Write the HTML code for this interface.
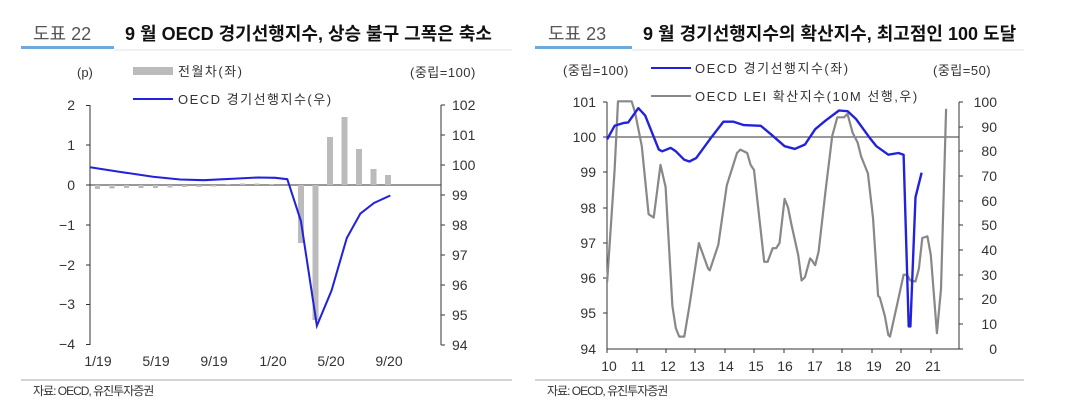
<!DOCTYPE html>
<html><head><meta charset="utf-8"><style>
body{margin:0;width:1066px;height:402px;background:#fff;overflow:hidden;font-family:"Liberation Sans","Noto Sans CJK KR",sans-serif;}
svg text{font-family:"Liberation Sans","Noto Sans CJK KR",sans-serif;}
</style></head><body>
<svg width="1066" height="402" viewBox="0 0 1066 402" xmlns="http://www.w3.org/2000/svg">
<text x="33" y="40" font-size="18" fill="#555">도표 22</text>
<text x="125" y="40" font-size="18" font-weight="bold" fill="#111">9 월 OECD 경기선행지수, 상승 불구 그폭은 축소</text>
<rect x="21" y="46" width="93" height="3" fill="#6fa8dc"/>
<line x1="114" y1="50" x2="512" y2="50" stroke="#dde4ee" stroke-width="1"/>
<text x="548" y="40" font-size="18" fill="#555">도표 23</text>
<text x="643" y="40" font-size="18" font-weight="bold" fill="#111">9 월 경기선행지수의 확산지수, 최고점인 100 도달</text>
<rect x="535" y="46" width="97" height="3" fill="#6fa8dc"/>
<line x1="632" y1="50" x2="1024" y2="50" stroke="#dde4ee" stroke-width="1"/>
<line x1="21" y1="380" x2="512" y2="380" stroke="#aaa"/>
<line x1="535" y1="380" x2="1024" y2="380" stroke="#aaa"/>
<text x="33" y="395" font-size="12" fill="#333" letter-spacing="-1">자료: OECD, 유진투자증권</text>
<text x="547" y="395" font-size="12" fill="#333" letter-spacing="-1">자료: OECD, 유진투자증권</text>

<!-- LEFT CHART -->
<g font-size="13" fill="#333">
<text x="77" y="77">(p)</text>
<rect x="133" y="67" width="40" height="8" fill="#bbb"/>
<text x="178" y="76" letter-spacing="1.5">전월차(좌)</text>
<line x1="133" y1="99" x2="173" y2="99" stroke="#2222dd" stroke-width="2"/>
<text x="178" y="104" letter-spacing="1.5">OECD 경기선행지수(우)</text>
<text x="410" y="77" letter-spacing="0.5">(중립=100)</text>
</g>
<g stroke="#333" stroke-width="1">
<line x1="90" y1="105" x2="90" y2="345"/>
<line x1="441" y1="105" x2="441" y2="345"/>
<line x1="90" y1="185" x2="441" y2="185"/>
</g>
<g stroke="#333">
<line x1="86" y1="105.5" x2="90" y2="105.5"/><line x1="86" y1="145" x2="90" y2="145"/><line x1="86" y1="185" x2="90" y2="185"/><line x1="86" y1="225" x2="90" y2="225"/><line x1="86" y1="265" x2="90" y2="265"/><line x1="86" y1="304.5" x2="90" y2="304.5"/><line x1="86" y1="344.5" x2="90" y2="344.5"/>
<line x1="441" y1="105" x2="445" y2="105"/><line x1="441" y1="135" x2="445" y2="135"/><line x1="441" y1="165" x2="445" y2="165"/><line x1="441" y1="195" x2="445" y2="195"/><line x1="441" y1="225" x2="445" y2="225"/><line x1="441" y1="255" x2="445" y2="255"/><line x1="441" y1="285" x2="445" y2="285"/><line x1="441" y1="315" x2="445" y2="315"/><line x1="441" y1="345" x2="445" y2="345"/>
</g>
<g font-size="14" fill="#333" text-anchor="end">
<text x="75" y="110">2</text><text x="75" y="150">1</text><text x="75" y="190">0</text><text x="75" y="230">−1</text><text x="75" y="270">−2</text><text x="75" y="309">−3</text><text x="75" y="349">−4</text>
</g>
<g font-size="14" fill="#333">
<text x="452" y="110">102</text><text x="452" y="140">101</text><text x="452" y="170">100</text><text x="452" y="200">99</text><text x="452" y="230">98</text><text x="452" y="260">97</text><text x="452" y="290">96</text><text x="452" y="320">95</text><text x="452" y="350">94</text>
</g>
<g font-size="14" fill="#333" text-anchor="middle">
<text x="98" y="366">1/19</text><text x="156" y="366">5/19</text><text x="214" y="366">9/19</text><text x="273" y="366">1/20</text><text x="331" y="366">5/20</text><text x="389" y="366">9/20</text>
</g>
<g fill="#bbb">
<rect x="95" y="185" width="5" height="4"/><rect x="109.5" y="185" width="5" height="3.5"/><rect x="124" y="185" width="5" height="3"/><rect x="138.5" y="185" width="5" height="3"/><rect x="153" y="185" width="5" height="3"/><rect x="167.5" y="185" width="5" height="2.5"/><rect x="182" y="185" width="5" height="2"/><rect x="196.5" y="185" width="5" height="2"/><rect x="211" y="185" width="5" height="1.5"/><rect x="225.5" y="184" width="5" height="1"/><rect x="240" y="183.5" width="5" height="1.5"/><rect x="254.5" y="183.5" width="5" height="1.5"/><rect x="269" y="184" width="5" height="1"/>
<rect x="298" y="185" width="6" height="58"/><rect x="312.5" y="185" width="6" height="135"/>
<rect x="327" y="137" width="6" height="48"/><rect x="341.5" y="117" width="6" height="68"/><rect x="356" y="149" width="6" height="36"/><rect x="370.5" y="169" width="6" height="16"/><rect x="385" y="175" width="6" height="10"/>
</g>
<g transform="scale(0.34)"><polyline fill="none" stroke="#2222dd" stroke-width="6" points="265,492 350,505 450,520 530,528 600,530 700,525 760,522 810,523 845,527 885,650 932,958 975,855 1020,700 1060,628 1100,597 1148,575"/></g>

<!-- RIGHT CHART -->
<g font-size="13" fill="#333">
<text x="563" y="75" letter-spacing="0.5">(중립=100)</text>
<line x1="651" y1="68" x2="691" y2="68" stroke="#2222dd" stroke-width="2"/>
<text x="695" y="73" letter-spacing="1.5">OECD 경기선행지수(좌)</text>
<line x1="651" y1="96" x2="691" y2="96" stroke="#888" stroke-width="2"/>
<text x="695" y="101" letter-spacing="1.5">OECD LEI 확산지수(10M 선행,우)</text>
<text x="933" y="75" letter-spacing="0.5">(중립=50)</text>
</g>
<g stroke="#333">
<line x1="607" y1="102" x2="607" y2="349"/>
<line x1="959" y1="102" x2="959" y2="349"/>
<line x1="607" y1="349" x2="959" y2="349"/>
<line x1="607" y1="137" x2="959" y2="137"/>
</g>
<g stroke="#333">
<line x1="603" y1="102" x2="607" y2="102"/><line x1="603" y1="137" x2="607" y2="137"/><line x1="603" y1="172" x2="607" y2="172"/><line x1="603" y1="208" x2="607" y2="208"/><line x1="603" y1="243" x2="607" y2="243"/><line x1="603" y1="278" x2="607" y2="278"/><line x1="603" y1="313" x2="607" y2="313"/>
<line x1="959" y1="102" x2="963" y2="102"/><line x1="959" y1="127" x2="963" y2="127"/><line x1="959" y1="151" x2="963" y2="151"/><line x1="959" y1="176" x2="963" y2="176"/><line x1="959" y1="201" x2="963" y2="201"/><line x1="959" y1="225" x2="963" y2="225"/><line x1="959" y1="250" x2="963" y2="250"/><line x1="959" y1="275" x2="963" y2="275"/><line x1="959" y1="299" x2="963" y2="299"/><line x1="959" y1="324" x2="963" y2="324"/><line x1="959" y1="349" x2="963" y2="349"/>
<line x1="607" y1="349" x2="607" y2="353"/><line x1="637" y1="349" x2="637" y2="353"/><line x1="666" y1="349" x2="666" y2="353"/><line x1="695" y1="349" x2="695" y2="353"/><line x1="725" y1="349" x2="725" y2="353"/><line x1="754" y1="349" x2="754" y2="353"/><line x1="784" y1="349" x2="784" y2="353"/><line x1="813" y1="349" x2="813" y2="353"/><line x1="842" y1="349" x2="842" y2="353"/><line x1="872" y1="349" x2="872" y2="353"/><line x1="901" y1="349" x2="901" y2="353"/><line x1="931" y1="349" x2="931" y2="353"/>
</g>
<g font-size="14" fill="#333" text-anchor="end">
<text x="596" y="107">101</text><text x="596" y="142">100</text><text x="596" y="177">99</text><text x="596" y="213">98</text><text x="596" y="248">97</text><text x="596" y="283">96</text><text x="596" y="318">95</text><text x="596" y="354">94</text>
</g>
<g font-size="14" fill="#333" text-anchor="end">
<text x="997" y="107">100</text><text x="997" y="132">90</text><text x="997" y="156">80</text><text x="997" y="181">70</text><text x="997" y="206">60</text><text x="997" y="230">50</text><text x="997" y="255">40</text><text x="997" y="280">30</text><text x="997" y="304">20</text><text x="997" y="329">10</text><text x="997" y="354">0</text>
</g>
<g font-size="14" fill="#333" text-anchor="middle">
<text x="609" y="371">10</text><text x="638" y="371">11</text><text x="668" y="371">12</text><text x="697" y="371">13</text><text x="726" y="371">14</text><text x="756" y="371">15</text><text x="785" y="371">16</text><text x="815" y="371">17</text><text x="844" y="371">18</text><text x="874" y="371">19</text><text x="903" y="371">20</text><text x="933" y="371">21</text>
</g>
<g transform="translate(533,0) scale(0.34)">
<polyline fill="none" stroke="#888" stroke-width="6.5" stroke-linejoin="round" points="218,830 240,500 250,298 290,298 300,330 320,430 340,630 355,640 375,485 390,550 410,900 420,965 430,990 445,990 460,900 488,715 515,790 520,795 545,720 570,545 600,450 610,440 630,450 640,485 650,500 660,590 680,770 690,770 705,730 715,730 725,715 740,585 750,610 760,660 780,750 790,825 800,815 815,760 820,765 830,780 840,740 860,565 880,400 895,345 915,345 925,335 940,390 955,420 965,460 985,510 1000,640 1015,870 1020,875 1035,930 1045,985 1050,990 1070,900 1090,808 1100,808 1110,825 1125,828 1135,790 1145,700 1160,695 1170,750 1188,980 1200,850 1215,320"/>
<polyline fill="none" stroke="#2222dd" stroke-width="7" stroke-linejoin="round" points="218,410 240,370 265,362 280,360 310,318 330,340 370,440 380,445 405,435 420,445 445,470 460,475 480,465 520,410 560,358 590,358 620,368 670,370 700,395 740,430 770,438 800,425 830,380 860,355 900,325 925,327 950,350 990,405 1010,430 1045,455 1075,450 1090,455 1105,960 1110,960 1125,580 1143,508"/>
</g>
</svg>
</body></html>
